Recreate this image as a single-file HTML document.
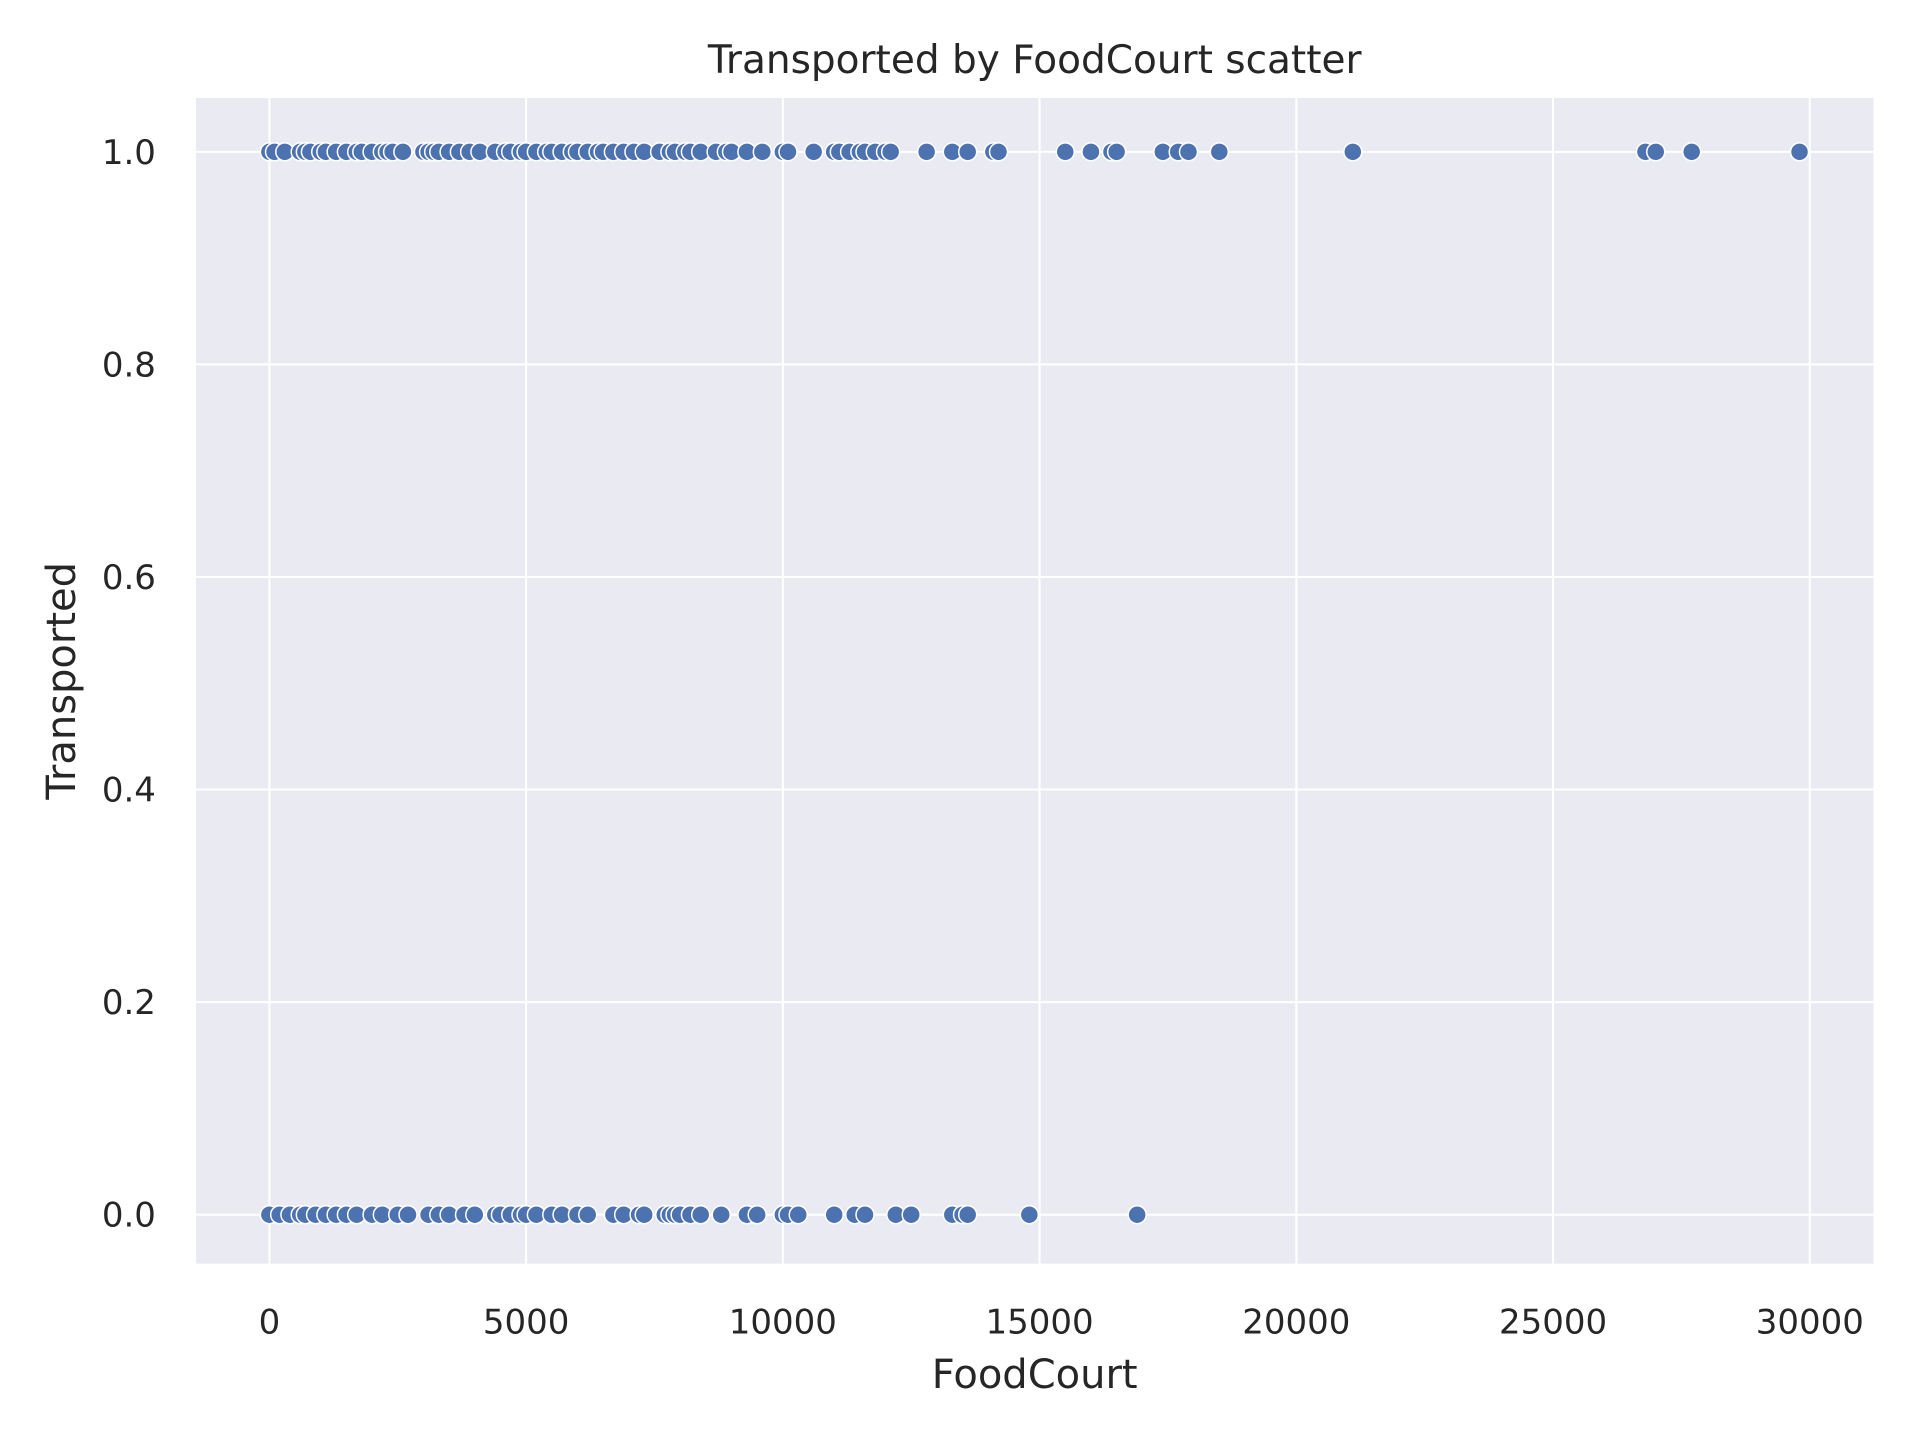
<!DOCTYPE html>
<html><head><meta charset="utf-8"><style>
html,body{margin:0;padding:0;background:#fff;}
svg{display:block;font-family:"DejaVu Sans","Liberation Sans",sans-serif;}
</style></head><body>
<svg id="chart" width="1920" height="1440" viewBox="0 0 1920 1440" xmlns="http://www.w3.org/2000/svg"></svg>
<script>
const xTicks=[0,5000,10000,15000,20000,25000,30000];
const yTicks=[0,0.2,0.4,0.6,0.8,1.0];
const yTickLabels=["0.0","0.2","0.4","0.6","0.8","1.0"];
const transportedX=[0,100,300,600,700,800,1000,1100,1300,1500,1700,1800,2000,2200,2300,2400,2600,3000,3100,3200,3300,3500,3700,3900,4100,4400,4600,4700,4900,5000,5200,5400,5500,5700,5900,6000,6200,6400,6500,6700,6900,7100,7300,7600,7800,7900,8100,8200,8400,8700,8900,9000,9300,9600,10000,10100,10600,11000,11100,11300,11500,11600,11800,12000,12100,12800,13300,13600,14100,14200,15500,16000,16400,16500,17400,17700,17900,18500,21100,26800,27000,27700,29800];
const transportedY=transportedX.map(()=>1);
const notTransportedX=[0,200,400,600,700,900,1100,1300,1500,1700,2000,2200,2500,2700,3100,3300,3500,3800,4000,4400,4500,4700,4900,5000,5200,5500,5700,6000,6200,6700,6900,7200,7300,7700,7800,7900,8000,8200,8400,8800,9300,9500,10000,10100,10300,11000,11400,11600,12200,12500,13300,13500,13600,14800,16900];
const notTransportedY=notTransportedX.map(()=>0);

const s=1920/1568;
const L=160*s,R=1530*s,T=80*s,B=1032*s;
const x0=220*s,x1=1478*s,yA=992*s,yB=124*s;
const xs=v=>x0+(v/30000)*(x1-x0);
const ys=v=>yA+(v)*(yB-yA);
const NS="http://www.w3.org/2000/svg";
const svg=document.getElementById('chart');
function mk(tag,attrs,parent){const e=document.createElementNS(NS,tag);for(const k in attrs)e.setAttribute(k,attrs[k]);(parent||svg).appendChild(e);return e;}

const bg=mk('rect',{x:L,y:T,width:R-L,height:B-T,fill:'#eaeaf2'});



xTicks.forEach(t=>{
  const l=mk('line',{x1:xs(t),x2:xs(t),y1:T,y2:B,stroke:'#fff','stroke-width':2});
  
  
  const tx=mk('text',{x:xs(t),y:B+70,'text-anchor':'middle','font-size':34,fill:'#262626'});
  tx.textContent=t;
  
  
});
yTicks.forEach((t,i)=>{
  const l=mk('line',{x1:L,x2:R,y1:ys(t),y2:ys(t),stroke:'#fff','stroke-width':2});
  
  
  const tx=mk('text',{x:L-40,y:ys(t)+12,'text-anchor':'end','font-size':34,fill:'#262626'});
  tx.textContent=yTickLabels[i];
  
  
});

function plot(xa,ya){
  xa.forEach((v,i)=>{
    const c=mk('circle',{cx:xs(v),cy:ys(ya[i]),r:9,fill:'#4c72b0',stroke:'#fff','stroke-width':1.5});
    
    
  });
}
plot(notTransportedX,notTransportedY);
plot(transportedX,transportedY);

const title=mk('text',{x:(L+R)/2,y:73,'text-anchor':'middle','font-size':39,fill:'#262626'});
title.textContent='Transported by FoodCourt scatter';


const xl=mk('text',{x:(L+R)/2,y:1388,'text-anchor':'middle','font-size':40,fill:'#262626'});
xl.textContent='FoodCourt';


const yl=mk('text',{x:0,y:0,'text-anchor':'middle','font-size':40,fill:'#262626',transform:`translate(75,${(T+B)/2}) rotate(-90)`});
yl.textContent='Transported';


</script>
</body></html>
